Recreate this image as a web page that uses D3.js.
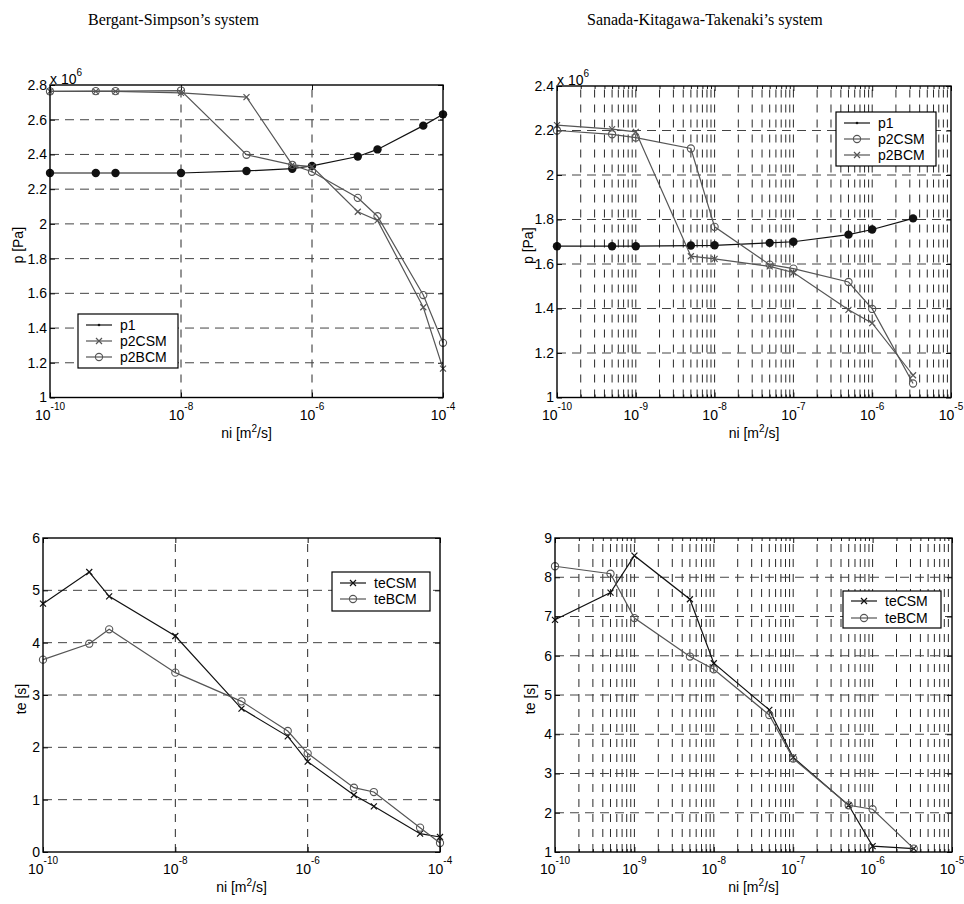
<!DOCTYPE html>
<html>
<head>
<meta charset="utf-8">
<script src="https://cdn.jsdelivr.net/npm/d3@7"></script>
<style>
  body { margin: 0; background: #fff; }
  svg { display: block; font-family: "Liberation Sans", Arial, sans-serif; }
</style>
</head>
<body>
<script>
// kinematic viscosity values on the x axis [m^2/s]
const niBergant = [1e-10, 5e-10, 1e-9, 1e-8, 1e-7, 5e-7, 1e-6, 5e-6, 1e-5, 5e-5, 1e-4];
const niSanada = [1e-10, 5e-10, 1e-9, 5e-9, 1e-8, 5e-8, 1e-7, 5e-7, 1e-6, 3.3e-6];

// pressures, in units of 10^6 Pa
const p1Bergant = [2.293, 2.293, 2.293, 2.293, 2.305, 2.318, 2.334, 2.388, 2.429, 2.566, 2.631];
const p2CSMBergant = [2.763, 2.763, 2.763, 2.755, 2.73, 2.34, 2.33, 2.07, 2.02, 1.52, 1.166];
const p2BCMBergant = [2.763, 2.765, 2.765, 2.768, 2.398, 2.34, 2.30, 2.15, 2.044, 1.59, 1.315];

const p1Sanada = [1.68, 1.68, 1.68, 1.683, 1.684, 1.695, 1.70, 1.732, 1.755, 1.805];
const p2CSMSanada = [2.20, 2.183, 2.168, 2.119, 1.767, 1.597, 1.579, 1.519, 1.398, 1.063];
const p2BCMSanada = [2.224, 2.206, 2.194, 1.635, 1.623, 1.589, 1.562, 1.394, 1.334, 1.10];

// times te [s]
const teCSMBergant = [4.745, 5.35, 4.885, 4.127, 2.74, 2.21, 1.726, 1.089, 0.873, 0.35, 0.287];
const teBCMBergant = [3.675, 3.98, 4.255, 3.427, 2.879, 2.312, 1.885, 1.229, 1.146, 0.465, 0.172];
const teCSMSanada = [6.915, 7.61, 8.55, 7.44, 5.81, 4.62, 3.41, 2.19, 1.15, 1.085];
const teBCMSanada = [8.28, 8.09, 6.96, 5.98, 5.655, 4.49, 3.38, 2.19, 2.09, 1.085];

// tick labels
const pTicksBergant = [1, 1.2, 1.4, 1.6, 1.8, 2, 2.2, 2.4, 2.6, 2.8];
const pTicksSanada = [1, 1.2, 1.4, 1.6, 1.8, 2, 2.2, 2.4];
const teTicksBergant = [0, 1, 2, 3, 4, 5, 6];
const teTicksSanada = [1, 2, 3, 4, 5, 6, 7, 8, 9];
const expBergant = [-10, -8, -6, -4];
const expSanada = [-10, -9, -8, -7, -6, -5];

const titles = ["Bergant-Simpson\u2019s system", "Sanada-Kitagawa-Takenaki\u2019s system"];

const BLACK = '#111';
const GRAY = '#555';

const svg = d3.select('body').append('svg')
  .attr('width', 964)
  .attr('height', 904);

svg.append('text').attr('x', 88).attr('y', 25).text(titles[0])
  .style('font-family', '"Liberation Serif", "Times New Roman", serif').style('font-size', '16px');
svg.append('text').attr('x', 587).attr('y', 25).text(titles[1])
  .style('font-family', '"Liberation Serif", "Times New Roman", serif').style('font-size', '16px');

function drawMarker(sel, type, color) {
  if (type === 'dot') {
    sel.append('circle').attr('r', 4.2).attr('fill', color);
  } else if (type === 'point') {
    sel.append('circle').attr('r', 1.3).attr('fill', color);
  } else if (type === 'circle') {
    sel.append('circle').attr('r', 3.6).attr('fill', 'none').attr('stroke', color).attr('stroke-width', 1.1);
  } else if (type === 'x') {
    sel.append('path').attr('d', 'M-3,-3L3,3M-3,3L3,-3').attr('stroke', color).attr('stroke-width', 1.2);
  }
}

function drawPanel(o) {
  const w = o.right - o.left;
  const h = o.bottom - o.top;
  const g = svg.append('g').attr('transform', `translate(${o.left},${o.top})`);

  const x = d3.scaleLog().domain(o.xDomain).range([0, w]);
  const y = d3.scaleLinear().domain(o.yDomain).range([h, 0]);
  const majors = o.exps.map(e => Math.pow(10, e));

  // minor positions 2..9 inside each decade (only for the minor-grid panels)
  let minors = [];
  if (o.minor) {
    o.exps.slice(0, -1).forEach(e => {
      for (let k = 2; k <= 9; k++) minors.push(k * Math.pow(10, e));
    });
  }

  // grid
  const vgrid = majors.slice(1, -1).concat(minors);
  g.append('g').selectAll('line').data(vgrid).join('line')
    .attr('x1', d => x(d)).attr('x2', d => x(d))
    .attr('y1', h).attr('y2', 0)
    .attr('stroke', BLACK).attr('stroke-width', 0.9)
    .attr('stroke-dasharray', '8,7');

  g.append('g').selectAll('line').data(o.yTicks.slice(1, -1)).join('line')
    .attr('x1', 0).attr('x2', w)
    .attr('y1', d => y(d)).attr('y2', d => y(d))
    .attr('stroke', '#444').attr('stroke-width', 1)
    .attr('stroke-dasharray', '9,6');

  // ticks (inside, on all four sides)
  const tickAxis = (axis, tr) => g.append('g').attr('transform', tr)
    .call(axis)
    .call(a => a.select('.domain').remove())
    .call(a => a.selectAll('.tick line').attr('stroke', BLACK));

  tickAxis(d3.axisBottom(x).tickValues(majors).tickSize(-5).tickFormat(''), `translate(0,${h})`);
  tickAxis(d3.axisTop(x).tickValues(majors).tickSize(-5).tickFormat(''), 'translate(0,0)');
  if (o.minor) {
    tickAxis(d3.axisBottom(x).tickValues(minors).tickSize(-3).tickFormat(''), `translate(0,${h})`);
    tickAxis(d3.axisTop(x).tickValues(minors).tickSize(-3).tickFormat(''), 'translate(0,0)');
  }
  tickAxis(d3.axisRight(y).tickValues(o.yTicks).tickSize(-5).tickFormat(''), `translate(${w},0)`);

  const yAxis = g.append('g')
    .call(d3.axisLeft(y).tickValues(o.yTicks).tickSize(-5).tickPadding(3).tickFormat(d3.format('~g')));
  yAxis.select('.domain').remove();
  yAxis.selectAll('.tick line').attr('stroke', BLACK);
  yAxis.attr('font-family', null).attr('font-size', 14);
  yAxis.selectAll('.tick text').attr('fill', '#000');

  // x tick labels 10^e
  const xl = g.append('g').selectAll('text').data(o.exps).join('text')
    .attr('x', d => x(Math.pow(10, d)))
    .attr('y', h + 22)
    .attr('text-anchor', 'middle')
    .style('font-size', '14px');
  xl.append('tspan').text('10');
  xl.append('tspan').attr('dy', -10).style('font-size', '10px').text(d => d);

  // series
  const line = d3.line()
    .x((d, i) => x(o.ni[i]))
    .y(d => y(d));

  o.series.forEach(s => {
    g.append('path').datum(s.values)
      .attr('d', line)
      .attr('fill', 'none')
      .attr('stroke', s.color)
      .attr('stroke-width', 1.2);
    g.append('g').selectAll('g').data(s.values).join('g')
      .attr('transform', (d, i) => `translate(${x(o.ni[i])},${y(d)})`)
      .each(function () { drawMarker(d3.select(this), s.marker, s.color); });
  });

  // box
  g.append('rect').attr('width', w).attr('height', h)
    .attr('fill', 'none').attr('stroke', '#000').attr('stroke-width', 1.4);

  // exponent label above the axis
  if (o.scaleExp) {
    const t = g.append('text').attr('x', 0).attr('y', -1).style('font-size', '14px');
    t.append('tspan').text('x 10');
    t.append('tspan').attr('dy', -8).style('font-size', '10px').text(o.scaleExp);
  }

  // axis titles
  const xt = g.append('text').attr('x', w / 2).attr('y', h + 40)
    .attr('text-anchor', 'middle').style('font-size', '14px');
  xt.append('tspan').text('ni [m');
  xt.append('tspan').attr('dy', -6).style('font-size', '10px').text('2');
  xt.append('tspan').attr('dy', 6).text('/s]');

  g.append('text')
    .attr('transform', `translate(${o.yLabelDx},${h / 2 + 4}) rotate(-90)`)
    .attr('text-anchor', 'middle')
    .style('font-size', '14px')
    .text(o.yLabel);

  // legend
  const L = o.legend;
  const lg = g.append('g').attr('transform', `translate(${L.x - o.left},${L.y - o.top})`);
  lg.append('rect').attr('width', L.w).attr('height', L.h)
    .attr('fill', '#fff').attr('stroke', '#000').attr('stroke-width', 1.2);
  o.series.forEach((s, i) => {
    const ry = L.first + i * L.step;
    lg.append('line').attr('x1', 8).attr('x2', 34).attr('y1', ry).attr('y2', ry)
      .attr('stroke', s.color).attr('stroke-width', 1.2);
    const m = lg.append('g').attr('transform', `translate(21,${ry})`);
    drawMarker(m, s.legendMarker || s.marker, s.color);
    lg.append('text').attr('x', 42).attr('y', ry + 5).style('font-size', '14px').text(s.name);
  });
}

drawPanel({
  left: 50, right: 443, top: 85, bottom: 397.5,
  xDomain: [1e-10, 1e-4], yDomain: [1, 2.8],
  exps: expBergant, yTicks: pTicksBergant, minor: false,
  ni: niBergant, scaleExp: '6', yLabel: 'p [Pa]', yLabelDx: -27,
  series: [
    { name: 'p1', values: p1Bergant, color: BLACK, marker: 'dot', legendMarker: 'point' },
    { name: 'p2CSM', values: p2CSMBergant, color: GRAY, marker: 'x' },
    { name: 'p2BCM', values: p2BCMBergant, color: GRAY, marker: 'circle' }
  ],
  legend: { x: 78, y: 314, w: 100, h: 54, first: 11, step: 16 }
});

drawPanel({
  left: 557, right: 951, top: 86, bottom: 397.5,
  xDomain: [1e-10, 1e-5], yDomain: [1, 2.4],
  exps: expSanada, yTicks: pTicksSanada, minor: true,
  ni: niSanada, scaleExp: '6', yLabel: 'p [Pa]', yLabelDx: -24,
  series: [
    { name: 'p1', values: p1Sanada, color: BLACK, marker: 'dot', legendMarker: 'point' },
    { name: 'p2CSM', values: p2CSMSanada, color: GRAY, marker: 'circle' },
    { name: 'p2BCM', values: p2BCMSanada, color: GRAY, marker: 'x' }
  ],
  legend: { x: 836, y: 112, w: 100, h: 54, first: 11, step: 16 }
});

drawPanel({
  left: 43, right: 440, top: 538, bottom: 852,
  xDomain: [1e-10, 1e-4], yDomain: [0, 6],
  exps: expBergant, yTicks: teTicksBergant, minor: false,
  ni: niBergant, yLabel: 'te [s]', yLabelDx: -17,
  series: [
    { name: 'teCSM', values: teCSMBergant, color: BLACK, marker: 'x' },
    { name: 'teBCM', values: teBCMBergant, color: GRAY, marker: 'circle' }
  ],
  legend: { x: 332, y: 572, w: 98, h: 39, first: 11, step: 16 }
});

drawPanel({
  left: 555, right: 952, top: 538, bottom: 852,
  xDomain: [1e-10, 1e-5], yDomain: [1, 9],
  exps: expSanada, yTicks: teTicksSanada, minor: true,
  ni: niSanada, yLabel: 'te [s]', yLabelDx: -20,
  series: [
    { name: 'teCSM', values: teCSMSanada, color: BLACK, marker: 'x' },
    { name: 'teBCM', values: teBCMSanada, color: GRAY, marker: 'circle' }
  ],
  legend: { x: 843, y: 591, w: 98, h: 37, first: 10, step: 17 }
});
</script>
</body>
</html>
